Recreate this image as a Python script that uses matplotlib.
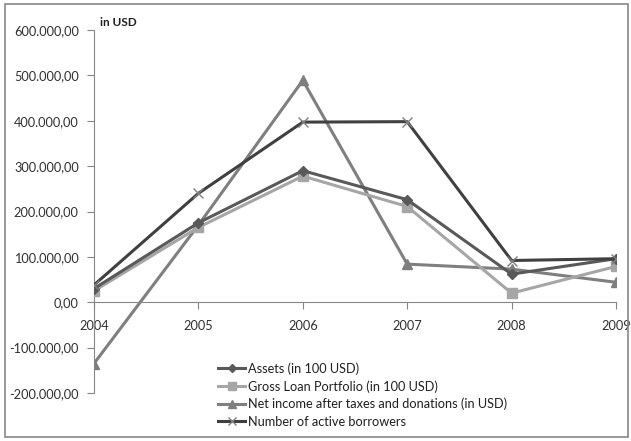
import matplotlib
matplotlib.use("Agg")
import matplotlib.pyplot as plt
from matplotlib.ticker import FuncFormatter
from matplotlib.patches import Rectangle

years = [2004, 2005, 2006, 2007, 2008, 2009]
assets = [30000, 175000, 290000, 226000, 62000, 96000]
gross_loan = [25000, 165000, 278000, 211000, 20000, 79000]
net_income = [-135000, 170000, 489000, 84000, 73000, 44000]
borrowers = [38000, 240000, 397000, 398000, 92000, 96000]

labels = ["Assets (in 100 USD)", "Gross Loan Portfolio (in 100 USD)",
          "Net income after taxes and donations (in USD)", "Number of active borrowers"]
yticks = [-200000, -100000, 0, 100000, 200000, 300000, 400000, 500000, 600000]

plt.rcParams['font.family'] = ['Lato', 'DejaVu Sans']

fig = plt.figure(figsize=(6.31, 4.41), dpi=100)
ax = fig.add_axes([94/631, (441-393)/441, (616-94)/631, (393-30)/441])

ax.plot(years, assets, color='#595959', lw=2.2, marker='D', ms=5.5, label=labels[0], zorder=4)
ax.plot(years, gross_loan, color='#a6a6a6', lw=2.2, marker='s', ms=7, label=labels[1], zorder=3)
ax.plot(years, net_income, color='#7f7f7f', lw=2.2, marker='^', ms=7.5, label=labels[2], zorder=2)
ax.plot(years, borrowers, color='#404040', lw=2.2, marker='x', ms=7, mew=1.0, mec='#7f7f7f', label=labels[3], zorder=5)

ax.set_xlim(2004, 2009)
ax.set_ylim(-200000, 600000)
ax.set_yticks(yticks)
ax.yaxis.set_major_formatter(FuncFormatter(lambda v, p: f"{v:,.2f}".replace(",", "X").replace(".", ",").replace("X", ".")))
ax.set_xticks(years)

for s in ['top', 'right']:
    ax.spines[s].set_visible(False)
ax.spines['left'].set_color('#868686')
ax.spines['bottom'].set_color('#868686')
ax.spines['bottom'].set_position(('data', 0))
ax.tick_params(axis='y', colors='#868686', length=5, labelsize=9.2, pad=6)
ax.tick_params(axis='x', colors='#868686', length=5, labelsize=9.2, pad=8, direction='out')
for lbl in ax.get_yticklabels() + ax.get_xticklabels():
    lbl.set_color('#303030')

fig.text(100/631, 1-22/441, "in USD", fontsize=8.5, fontweight='bold', color='#202020', va='center', ha='left')

leg = ax.legend(loc='upper left', bbox_to_anchor=(213/631, 1-357/441), bbox_transform=fig.transFigure,
                frameon=False, fontsize=9.2, handlelength=2.1, handletextpad=0.2, labelspacing=0.42,
                borderaxespad=0, markerscale=0.8)
for t in leg.get_texts():
    t.set_color('#202020')

fig.patches.append(Rectangle((5/631, 4/441), 623/631, 433/441, transform=fig.transFigure,
                             fill=False, edgecolor='#868686', lw=1.2))

fig.savefig("out.png", dpi=100)
